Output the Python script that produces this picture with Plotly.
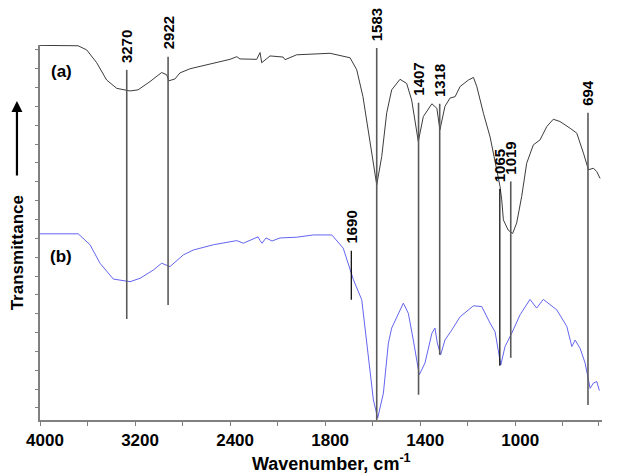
import plotly.graph_objects as go

# ---------------- data ----------------
# spectrum (a): wavenumber (cm-1) and transmittance (arbitrary units)
wn_a = [4000, 3680, 3607, 3523, 3439, 3354, 3242, 3175, 3074, 2976, 2934, 2915, 2864, 2822,
        2737, 2597, 2401, 2344, 2317, 2176, 2148, 2134, 2064, 1977, 1969, 1920, 1779, 1695,
        1667, 1641, 1612, 1583, 1562, 1541, 1520, 1485, 1457, 1436, 1408, 1387, 1351, 1330,
        1317, 1296, 1275, 1253, 1232, 1197, 1176, 1162, 1134, 1106, 1078, 1064, 1057, 1050,
        1030, 1011, 994, 984, 973, 952, 924, 896, 867, 840, 812, 769, 741, 713, 692, 671,
        657, 643]
t_a = [96.2, 96.1, 95.0, 91.6, 87.0, 84.8, 84.1, 84.4, 86.6, 89.0, 88.4, 86.8, 87.3, 88.9,
       90.0, 91.0, 92.5, 93.2, 92.6, 92.5, 94.3, 91.6, 93.4, 93.1, 92.4, 93.7, 94.1, 92.9,
       89.7, 82.6, 71.1, 59.2, 66.7, 78.3, 84.4, 87.2, 86.1, 81.7, 70.7, 77.3, 80.7, 79.5,
       73.8, 80.0, 82.2, 82.6, 85.3, 87.0, 87.7, 85.3, 78.2, 71.9, 63.2, 58.7, 55.2, 49.9,
       47.2, 46.3, 49.1, 52.5, 56.1, 64.9, 69.8, 71.1, 74.7, 76.6, 76.0, 74.2, 72.9, 67.6,
       63.2, 63.6, 62.7, 60.9]

# spectrum (b)
wn_b = [4000, 3678, 3579, 3495, 3383, 3242, 3158, 3046, 2976, 2906, 2794, 2710, 2541, 2344,
        2289, 2165, 2148, 2131, 2098, 2047, 1990, 1920, 1850, 1772, 1724, 1681, 1646, 1625,
        1597, 1579, 1555, 1534, 1520, 1471, 1450, 1429, 1404, 1380, 1351, 1338, 1328, 1314,
        1296, 1267, 1232, 1176, 1141, 1106, 1085, 1061, 1043, 1015, 980, 938, 910, 882, 825,
        783, 762, 748, 727, 706, 685, 671, 657, 646]
t_b = [46.2, 46.2, 43.3, 38.4, 34.2, 33.5, 34.4, 36.6, 38.4, 37.5, 40.6, 41.9, 43.3, 44.4,
       43.7, 45.4, 44.4, 43.7, 45.1, 44.3, 45.1, 45.3, 45.9, 45.9, 42.4, 34.0, 28.7, 18.0,
       2.1, -2.7, 3.9, 17.2, 21.2, 27.8, 25.1, 18.0, 8.8, 11.9, 19.8, 21.2, 17.2, 14.1,
       18.0, 20.7, 24.2, 27.1, 26.9, 22.5, 20.2, 11.4, 16.3, 19.8, 24.7, 28.8, 26.5, 28.8,
       26.0, 21.6, 16.3, 18.0, 15.8, 11.9, 5.2, 6.6, 7.0, 4.6]

# marked bands
peak_wn = [3270, 2922, 1583, 1407, 1318, 1065, 1019, 694, 1690]
peak_labels = ["3270", "2922", "1583", "1407", "1318", "1065", "1019", "694", "1690"]
peak_top = [89.7, 93.2, 95.5, 81.0, 80.7, 58.1, 60.1, 78.3, 41.7]
peak_bottom = [23.6, 27.3, -3.2, 3.5, 14.1, 11.2, 13.3, 0.8, 28.7]
peak_color = ["#5a5a5a", "#5a5a5a", "#5a5a5a", "#5a5a5a", "#5a5a5a", "#000000",
              "#5a5a5a", "#5a5a5a", "#000000"]

tick_wn = [4000, 3600, 3200, 2800, 2400, 2000, 1800, 1600, 1400, 1200, 1000, 800, 650]
tick_text = ["4000", "", "3200", "", "2400", "", "1800", "", "1400", "", "1000", "", "650"]


# two-scale wavenumber axis (scale doubles below 2000 cm-1)
def to_u(w):
    return 4000 - w if w >= 2000 else 2000 + 2 * (2000 - w)


FONT = "Liberation Sans, Arial, sans-serif"

fig = go.Figure()
fig.add_trace(go.Scatter(x=[to_u(w) for w in wn_a], y=t_a, mode="lines",
                         line=dict(color="#3c3c3c", width=1), showlegend=False))
fig.add_trace(go.Scatter(x=[to_u(w) for w in wn_b], y=t_b, mode="lines",
                         line=dict(color="#6464f0", width=1), showlegend=False))

for w, lab, top, bot, col in zip(peak_wn, peak_labels, peak_top, peak_bottom, peak_color):
    fig.add_shape(type="line", xref="x", yref="y", x0=to_u(w), x1=to_u(w), y0=bot, y1=top,
                  line=dict(color=col, width=1.6 if col != "#000000" else 1.2))
    fig.add_annotation(x=to_u(w), y=top, xref="x", yref="y", text=lab, textangle=-90,
                       showarrow=False, xanchor="center", yanchor="bottom", yshift=5,
                       font=dict(family=FONT, size=15, color="black", weight="bold"))

fig.add_annotation(x=to_u(3823), y=89.2, text="(a)", showarrow=False,
                   font=dict(family=FONT, size=17, color="black", weight="bold"))
fig.add_annotation(x=to_u(3823), y=40.3, text="(b)", showarrow=False,
                   font=dict(family=FONT, size=17, color="black", weight="bold"))

# y-axis title with arrow
fig.add_annotation(x=-0.041, y=0.447, xref="paper", yref="paper", text="Transmittance",
                   textangle=-90, showarrow=False, xanchor="center", yanchor="middle",
                   font=dict(family=FONT, size=17, color="black", weight="bold"))
fig.add_annotation(x=-0.041, y=0.851, xref="paper", yref="paper", text="",
                   showarrow=True, ax=0, ay=76, arrowhead=2, arrowsize=1, arrowwidth=2.2,
                   arrowcolor="black")
# x-axis title
fig.add_annotation(x=0.518, y=-0.112, xref="paper", yref="paper",
                   text="Wavenumber, cm<sup>-1</sup>", showarrow=False,
                   xanchor="center", yanchor="middle",
                   font=dict(family=FONT, size=18, color="black", weight="bold"))

fig.update_layout(
    width=617, height=475,
    margin=dict(l=40, r=15, t=45, b=55),
    plot_bgcolor="white", paper_bgcolor="white",
    xaxis=dict(range=[0, 4730], tickmode="array",
               tickvals=[to_u(w) for w in tick_wn], ticktext=tick_text,
               showgrid=False, zeroline=False, showline=True, linecolor="#808080",
               linewidth=1.5, ticks="outside", ticklen=4, tickcolor="#808080",
               ticklabelshift=5,
               tickfont=dict(family=FONT, size=17, color="black", weight="bold")),
    yaxis=dict(range=[-3.2, 96.3], tick0=0, dtick=5, showticklabels=False,
               showgrid=False, zeroline=False, showline=True, linecolor="#808080",
               linewidth=1.5, ticks="outside", ticklen=3, tickcolor="#808080"),
)

fig.write_html("out.html")
